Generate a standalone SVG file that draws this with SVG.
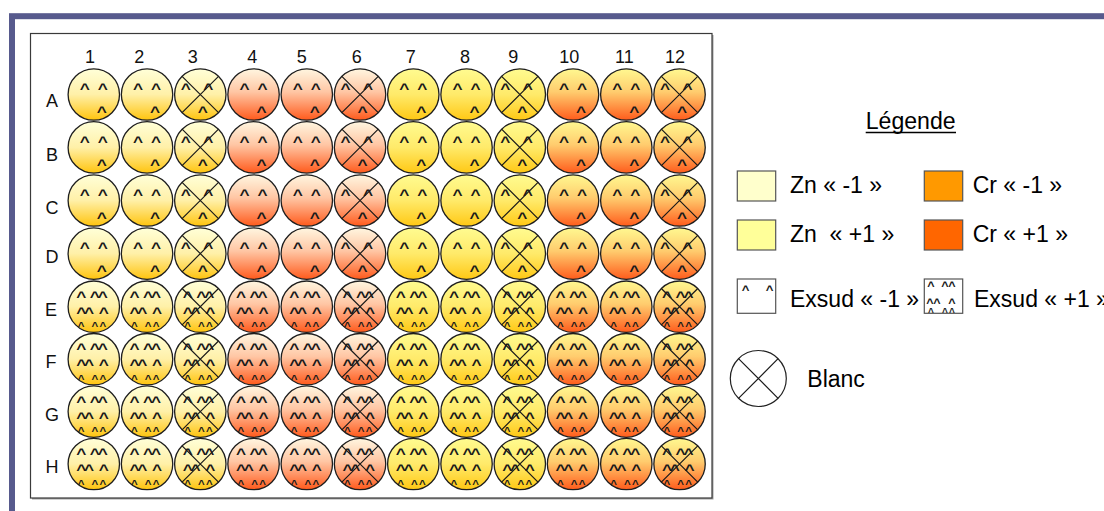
<svg xmlns="http://www.w3.org/2000/svg" xmlns:xlink="http://www.w3.org/1999/xlink" width="1104" height="511" viewBox="0 0 1104 511">
<style>
.frame{fill:none;stroke:#575A8D;stroke-width:6}
.plate{fill:#fff;stroke:#3a3a3a;stroke-width:1.2}
.well{stroke:#1e1e1e;stroke-width:1.3}
.c{font-family:"Liberation Sans",Arial,sans-serif;font-size:15px;font-weight:bold;fill:#1a1a1a;text-anchor:middle}
.cs{font-size:10px}
.cl{font-size:12px}
.x{stroke:#1a1a1a;stroke-width:1.2;fill:none}
.lbl{font-family:"Liberation Sans",Arial,sans-serif;font-size:18px;fill:#111;text-anchor:middle}
.leg{font-family:"Liberation Sans",Arial,sans-serif;font-size:23px;fill:#000}
.sw{stroke:#555;stroke-width:1.2}
</style>
<defs>
<linearGradient id="gA" x1="0" y1="0" x2="0" y2="1"><stop offset="0" stop-color="#FFFFD8"/><stop offset="0.5" stop-color="#FFF0A8"/><stop offset="1" stop-color="#FFC40E"/></linearGradient>
<linearGradient id="gB" x1="0" y1="0" x2="0" y2="1"><stop offset="0" stop-color="#FFF6E0"/><stop offset="0.45" stop-color="#FFC6A4"/><stop offset="1" stop-color="#FF5A1C"/></linearGradient>
<linearGradient id="gC" x1="0" y1="0" x2="0" y2="1"><stop offset="0" stop-color="#FFFB90"/><stop offset="0.5" stop-color="#FFEA6A"/><stop offset="1" stop-color="#FFC814"/></linearGradient>
<linearGradient id="gD" x1="0" y1="0" x2="0" y2="1"><stop offset="0" stop-color="#FFF890"/><stop offset="0.45" stop-color="#FFCC6E"/><stop offset="1" stop-color="#FF5C1C"/></linearGradient>
<g id="ex1">
<text class="c" transform="translate(-9 -8) scale(1.15 1)" y="7.8">^</text>
<text class="c" transform="translate(9 -8) scale(1.15 1)" y="7.8">^</text>
<text class="c" transform="translate(8 14.5) scale(1.15 1)" y="7.8">^</text>
</g>
<g id="ex1b">
<text class="c" transform="translate(-14.5 -8) scale(1.15 1)" y="7.8">^</text>
<text class="c" transform="translate(8 -8) scale(1.15 1)" y="7.8">^</text>
<text class="c" transform="translate(2.5 14.5) scale(1.15 1)" y="7.8">^</text>
</g>
<g id="ex2">
<text class="c" transform="translate(-12.6 -12.7) scale(1.15 1)" y="7.8">^</text>
<text class="c" transform="translate(1 -12.7) scale(1.15 1)" y="7.8">^</text>
<text class="c" transform="translate(9 -12.7) scale(1.15 1)" y="7.8">^</text>
<text class="c" transform="translate(-12.6 3.3) scale(1.15 1)" y="7.8">^</text>
<text class="c" transform="translate(-4.8 3.3) scale(1.15 1)" y="7.8">^</text>
<text class="c" transform="translate(10 3.3) scale(1.15 1)" y="7.8">^</text>
<text class="c cs" transform="translate(-12.6 18.3) scale(1.15 1)" y="5.2">^</text>
<text class="c cs" transform="translate(1 18.3) scale(1.15 1)" y="5.2">^</text>
<text class="c cs" transform="translate(9 18.3) scale(1.15 1)" y="5.2">^</text>
</g>
<g id="xx"><path class="x" d="M-18.2,-18.2L18.2,18.2M18.2,-18.2L-18.2,18.2"/></g>
</defs>

<rect width="1104" height="511" fill="#fff"/>
<rect class="frame" x="12" y="16.2" width="1200" height="600"/>
<rect x="32" y="35" width="681.5" height="464.5" fill="#a0a0a0"/>
<rect class="plate" x="30.5" y="33.5" width="681.5" height="464.5"/>

<g id="col-labels">
<text class="lbl" x="90" y="63.3">1</text>
<text class="lbl" x="139.3" y="63.3">2</text>
<text class="lbl" x="192.7" y="63.3">3</text>
<text class="lbl" x="252.3" y="63.3">4</text>
<text class="lbl" x="301.7" y="63.3">5</text>
<text class="lbl" x="356.7" y="63.3">6</text>
<text class="lbl" x="410.7" y="63.3">7</text>
<text class="lbl" x="465" y="63.3">8</text>
<text class="lbl" x="513.3" y="63.3">9</text>
<text class="lbl" x="569.3" y="63.3">10</text>
<text class="lbl" x="624.3" y="63.3">11</text>
<text class="lbl" x="675" y="63.3">12</text>
</g>
<g id="row-labels">
<text class="lbl" x="52" y="106.8">A</text>
<text class="lbl" x="52" y="161">B</text>
<text class="lbl" x="52" y="214">C</text>
<text class="lbl" x="52" y="263">D</text>
<text class="lbl" x="51" y="315.5">E</text>
<text class="lbl" x="51" y="368.3">F</text>
<text class="lbl" x="52" y="420.8">G</text>
<text class="lbl" x="52" y="473">H</text>
</g>

<g id="wells">
<g id="w-A1" transform="translate(93.8 94.5)"><circle class="well" r="25.7" fill="url(#gA)"/><use href="#ex1"/></g>
<g id="w-A2" transform="translate(147.05 94.5)"><circle class="well" r="25.7" fill="url(#gA)"/><use href="#ex1"/></g>
<g id="w-A3" transform="translate(200.3 94.5)"><circle class="well" r="25.7" fill="url(#gA)"/><use href="#ex1b"/><use href="#xx"/></g>
<g id="w-A4" transform="translate(253.55 94.5)"><circle class="well" r="25.7" fill="url(#gB)"/><use href="#ex1"/></g>
<g id="w-A5" transform="translate(306.8 94.5)"><circle class="well" r="25.7" fill="url(#gB)"/><use href="#ex1"/></g>
<g id="w-A6" transform="translate(360.05 94.5)"><circle class="well" r="25.7" fill="url(#gB)"/><use href="#ex1b"/><use href="#xx"/></g>
<g id="w-A7" transform="translate(413.3 94.5)"><circle class="well" r="25.7" fill="url(#gC)"/><use href="#ex1"/></g>
<g id="w-A8" transform="translate(466.55 94.5)"><circle class="well" r="25.7" fill="url(#gC)"/><use href="#ex1"/></g>
<g id="w-A9" transform="translate(519.8 94.5)"><circle class="well" r="25.7" fill="url(#gC)"/><use href="#ex1b"/><use href="#xx"/></g>
<g id="w-A10" transform="translate(573.05 94.5)"><circle class="well" r="25.7" fill="url(#gD)"/><use href="#ex1"/></g>
<g id="w-A11" transform="translate(626.3 94.5)"><circle class="well" r="25.7" fill="url(#gD)"/><use href="#ex1"/></g>
<g id="w-A12" transform="translate(679.55 94.5)"><circle class="well" r="25.7" fill="url(#gD)"/><use href="#ex1b"/><use href="#xx"/></g>

<g id="w-B1" transform="translate(93.8 147.4)"><circle class="well" r="25.7" fill="url(#gA)"/><use href="#ex1"/></g>
<g id="w-B2" transform="translate(147.05 147.4)"><circle class="well" r="25.7" fill="url(#gA)"/><use href="#ex1"/></g>
<g id="w-B3" transform="translate(200.3 147.4)"><circle class="well" r="25.7" fill="url(#gA)"/><use href="#ex1b"/><use href="#xx"/></g>
<g id="w-B4" transform="translate(253.55 147.4)"><circle class="well" r="25.7" fill="url(#gB)"/><use href="#ex1"/></g>
<g id="w-B5" transform="translate(306.8 147.4)"><circle class="well" r="25.7" fill="url(#gB)"/><use href="#ex1"/></g>
<g id="w-B6" transform="translate(360.05 147.4)"><circle class="well" r="25.7" fill="url(#gB)"/><use href="#ex1b"/><use href="#xx"/></g>
<g id="w-B7" transform="translate(413.3 147.4)"><circle class="well" r="25.7" fill="url(#gC)"/><use href="#ex1"/></g>
<g id="w-B8" transform="translate(466.55 147.4)"><circle class="well" r="25.7" fill="url(#gC)"/><use href="#ex1"/></g>
<g id="w-B9" transform="translate(519.8 147.4)"><circle class="well" r="25.7" fill="url(#gC)"/><use href="#ex1b"/><use href="#xx"/></g>
<g id="w-B10" transform="translate(573.05 147.4)"><circle class="well" r="25.7" fill="url(#gD)"/><use href="#ex1"/></g>
<g id="w-B11" transform="translate(626.3 147.4)"><circle class="well" r="25.7" fill="url(#gD)"/><use href="#ex1"/></g>
<g id="w-B12" transform="translate(679.55 147.4)"><circle class="well" r="25.7" fill="url(#gD)"/><use href="#ex1b"/><use href="#xx"/></g>

<g id="w-C1" transform="translate(93.8 200.5)"><circle class="well" r="25.7" fill="url(#gA)"/><use href="#ex1"/></g>
<g id="w-C2" transform="translate(147.05 200.5)"><circle class="well" r="25.7" fill="url(#gA)"/><use href="#ex1"/></g>
<g id="w-C3" transform="translate(200.3 200.5)"><circle class="well" r="25.7" fill="url(#gA)"/><use href="#ex1b"/><use href="#xx"/></g>
<g id="w-C4" transform="translate(253.55 200.5)"><circle class="well" r="25.7" fill="url(#gB)"/><use href="#ex1"/></g>
<g id="w-C5" transform="translate(306.8 200.5)"><circle class="well" r="25.7" fill="url(#gB)"/><use href="#ex1"/></g>
<g id="w-C6" transform="translate(360.05 200.5)"><circle class="well" r="25.7" fill="url(#gB)"/><use href="#ex1b"/><use href="#xx"/></g>
<g id="w-C7" transform="translate(413.3 200.5)"><circle class="well" r="25.7" fill="url(#gC)"/><use href="#ex1"/></g>
<g id="w-C8" transform="translate(466.55 200.5)"><circle class="well" r="25.7" fill="url(#gC)"/><use href="#ex1"/></g>
<g id="w-C9" transform="translate(519.8 200.5)"><circle class="well" r="25.7" fill="url(#gC)"/><use href="#ex1b"/><use href="#xx"/></g>
<g id="w-C10" transform="translate(573.05 200.5)"><circle class="well" r="25.7" fill="url(#gD)"/><use href="#ex1"/></g>
<g id="w-C11" transform="translate(626.3 200.5)"><circle class="well" r="25.7" fill="url(#gD)"/><use href="#ex1"/></g>
<g id="w-C12" transform="translate(679.55 200.5)"><circle class="well" r="25.7" fill="url(#gD)"/><use href="#ex1b"/><use href="#xx"/></g>

<g id="w-D1" transform="translate(93.8 253.6)"><circle class="well" r="25.7" fill="url(#gA)"/><use href="#ex1"/></g>
<g id="w-D2" transform="translate(147.05 253.6)"><circle class="well" r="25.7" fill="url(#gA)"/><use href="#ex1"/></g>
<g id="w-D3" transform="translate(200.3 253.6)"><circle class="well" r="25.7" fill="url(#gA)"/><use href="#ex1b"/><use href="#xx"/></g>
<g id="w-D4" transform="translate(253.55 253.6)"><circle class="well" r="25.7" fill="url(#gB)"/><use href="#ex1"/></g>
<g id="w-D5" transform="translate(306.8 253.6)"><circle class="well" r="25.7" fill="url(#gB)"/><use href="#ex1"/></g>
<g id="w-D6" transform="translate(360.05 253.6)"><circle class="well" r="25.7" fill="url(#gB)"/><use href="#ex1b"/><use href="#xx"/></g>
<g id="w-D7" transform="translate(413.3 253.6)"><circle class="well" r="25.7" fill="url(#gC)"/><use href="#ex1"/></g>
<g id="w-D8" transform="translate(466.55 253.6)"><circle class="well" r="25.7" fill="url(#gC)"/><use href="#ex1"/></g>
<g id="w-D9" transform="translate(519.8 253.6)"><circle class="well" r="25.7" fill="url(#gC)"/><use href="#ex1b"/><use href="#xx"/></g>
<g id="w-D10" transform="translate(573.05 253.6)"><circle class="well" r="25.7" fill="url(#gD)"/><use href="#ex1"/></g>
<g id="w-D11" transform="translate(626.3 253.6)"><circle class="well" r="25.7" fill="url(#gD)"/><use href="#ex1"/></g>
<g id="w-D12" transform="translate(679.55 253.6)"><circle class="well" r="25.7" fill="url(#gD)"/><use href="#ex1b"/><use href="#xx"/></g>

<g id="w-E1" transform="translate(93.8 306.7)"><circle class="well" r="25.7" fill="url(#gA)"/><use href="#ex2"/></g>
<g id="w-E2" transform="translate(147.05 306.7)"><circle class="well" r="25.7" fill="url(#gA)"/><use href="#ex2"/></g>
<g id="w-E3" transform="translate(200.3 306.7)"><circle class="well" r="25.7" fill="url(#gA)"/><use href="#ex2"/><use href="#xx"/></g>
<g id="w-E4" transform="translate(253.55 306.7)"><circle class="well" r="25.7" fill="url(#gB)"/><use href="#ex2"/></g>
<g id="w-E5" transform="translate(306.8 306.7)"><circle class="well" r="25.7" fill="url(#gB)"/><use href="#ex2"/></g>
<g id="w-E6" transform="translate(360.05 306.7)"><circle class="well" r="25.7" fill="url(#gB)"/><use href="#ex2"/><use href="#xx"/></g>
<g id="w-E7" transform="translate(413.3 306.7)"><circle class="well" r="25.7" fill="url(#gC)"/><use href="#ex2"/></g>
<g id="w-E8" transform="translate(466.55 306.7)"><circle class="well" r="25.7" fill="url(#gC)"/><use href="#ex2"/></g>
<g id="w-E9" transform="translate(519.8 306.7)"><circle class="well" r="25.7" fill="url(#gC)"/><use href="#ex2"/><use href="#xx"/></g>
<g id="w-E10" transform="translate(573.05 306.7)"><circle class="well" r="25.7" fill="url(#gD)"/><use href="#ex2"/></g>
<g id="w-E11" transform="translate(626.3 306.7)"><circle class="well" r="25.7" fill="url(#gD)"/><use href="#ex2"/></g>
<g id="w-E12" transform="translate(679.55 306.7)"><circle class="well" r="25.7" fill="url(#gD)"/><use href="#ex2"/><use href="#xx"/></g>

<g id="w-F1" transform="translate(93.8 359.2)"><circle class="well" r="25.7" fill="url(#gA)"/><use href="#ex2"/></g>
<g id="w-F2" transform="translate(147.05 359.2)"><circle class="well" r="25.7" fill="url(#gA)"/><use href="#ex2"/></g>
<g id="w-F3" transform="translate(200.3 359.2)"><circle class="well" r="25.7" fill="url(#gA)"/><use href="#ex2"/><use href="#xx"/></g>
<g id="w-F4" transform="translate(253.55 359.2)"><circle class="well" r="25.7" fill="url(#gB)"/><use href="#ex2"/></g>
<g id="w-F5" transform="translate(306.8 359.2)"><circle class="well" r="25.7" fill="url(#gB)"/><use href="#ex2"/></g>
<g id="w-F6" transform="translate(360.05 359.2)"><circle class="well" r="25.7" fill="url(#gB)"/><use href="#ex2"/><use href="#xx"/></g>
<g id="w-F7" transform="translate(413.3 359.2)"><circle class="well" r="25.7" fill="url(#gC)"/><use href="#ex2"/></g>
<g id="w-F8" transform="translate(466.55 359.2)"><circle class="well" r="25.7" fill="url(#gC)"/><use href="#ex2"/></g>
<g id="w-F9" transform="translate(519.8 359.2)"><circle class="well" r="25.7" fill="url(#gC)"/><use href="#ex2"/><use href="#xx"/></g>
<g id="w-F10" transform="translate(573.05 359.2)"><circle class="well" r="25.7" fill="url(#gD)"/><use href="#ex2"/></g>
<g id="w-F11" transform="translate(626.3 359.2)"><circle class="well" r="25.7" fill="url(#gD)"/><use href="#ex2"/></g>
<g id="w-F12" transform="translate(679.55 359.2)"><circle class="well" r="25.7" fill="url(#gD)"/><use href="#ex2"/><use href="#xx"/></g>

<g id="w-G1" transform="translate(93.8 411.6)"><circle class="well" r="25.7" fill="url(#gA)"/><use href="#ex2"/></g>
<g id="w-G2" transform="translate(147.05 411.6)"><circle class="well" r="25.7" fill="url(#gA)"/><use href="#ex2"/></g>
<g id="w-G3" transform="translate(200.3 411.6)"><circle class="well" r="25.7" fill="url(#gA)"/><use href="#ex2"/><use href="#xx"/></g>
<g id="w-G4" transform="translate(253.55 411.6)"><circle class="well" r="25.7" fill="url(#gB)"/><use href="#ex2"/></g>
<g id="w-G5" transform="translate(306.8 411.6)"><circle class="well" r="25.7" fill="url(#gB)"/><use href="#ex2"/></g>
<g id="w-G6" transform="translate(360.05 411.6)"><circle class="well" r="25.7" fill="url(#gB)"/><use href="#ex2"/><use href="#xx"/></g>
<g id="w-G7" transform="translate(413.3 411.6)"><circle class="well" r="25.7" fill="url(#gC)"/><use href="#ex2"/></g>
<g id="w-G8" transform="translate(466.55 411.6)"><circle class="well" r="25.7" fill="url(#gC)"/><use href="#ex2"/></g>
<g id="w-G9" transform="translate(519.8 411.6)"><circle class="well" r="25.7" fill="url(#gC)"/><use href="#ex2"/><use href="#xx"/></g>
<g id="w-G10" transform="translate(573.05 411.6)"><circle class="well" r="25.7" fill="url(#gD)"/><use href="#ex2"/></g>
<g id="w-G11" transform="translate(626.3 411.6)"><circle class="well" r="25.7" fill="url(#gD)"/><use href="#ex2"/></g>
<g id="w-G12" transform="translate(679.55 411.6)"><circle class="well" r="25.7" fill="url(#gD)"/><use href="#ex2"/><use href="#xx"/></g>

<g id="w-H1" transform="translate(93.8 464)"><circle class="well" r="25.7" fill="url(#gA)"/><use href="#ex2"/></g>
<g id="w-H2" transform="translate(147.05 464)"><circle class="well" r="25.7" fill="url(#gA)"/><use href="#ex2"/></g>
<g id="w-H3" transform="translate(200.3 464)"><circle class="well" r="25.7" fill="url(#gA)"/><use href="#ex2"/><use href="#xx"/></g>
<g id="w-H4" transform="translate(253.55 464)"><circle class="well" r="25.7" fill="url(#gB)"/><use href="#ex2"/></g>
<g id="w-H5" transform="translate(306.8 464)"><circle class="well" r="25.7" fill="url(#gB)"/><use href="#ex2"/></g>
<g id="w-H6" transform="translate(360.05 464)"><circle class="well" r="25.7" fill="url(#gB)"/><use href="#ex2"/><use href="#xx"/></g>
<g id="w-H7" transform="translate(413.3 464)"><circle class="well" r="25.7" fill="url(#gC)"/><use href="#ex2"/></g>
<g id="w-H8" transform="translate(466.55 464)"><circle class="well" r="25.7" fill="url(#gC)"/><use href="#ex2"/></g>
<g id="w-H9" transform="translate(519.8 464)"><circle class="well" r="25.7" fill="url(#gC)"/><use href="#ex2"/><use href="#xx"/></g>
<g id="w-H10" transform="translate(573.05 464)"><circle class="well" r="25.7" fill="url(#gD)"/><use href="#ex2"/></g>
<g id="w-H11" transform="translate(626.3 464)"><circle class="well" r="25.7" fill="url(#gD)"/><use href="#ex2"/></g>
<g id="w-H12" transform="translate(679.55 464)"><circle class="well" r="25.7" fill="url(#gD)"/><use href="#ex2"/><use href="#xx"/></g>
</g>

<g id="connectors"/>

<g id="legend">
<g id="legend-title">
<text class="leg" x="865.7" y="129.3" textLength="90" lengthAdjust="spacingAndGlyphs">Légende</text>
<line x1="865.7" y1="132.5" x2="956" y2="132.5" stroke="#000" stroke-width="1.5"/>
</g>
<g id="leg-zn-m1"><rect class="sw" x="737.3" y="171" width="38.4" height="30" fill="#FFFFCC"/><text class="leg" x="790" y="193.3">Zn « -1 »</text></g>
<g id="leg-cr-m1"><rect class="sw" x="924.3" y="171" width="38.4" height="30" fill="#FF9900"/><text class="leg" x="972.7" y="193.3">Cr « -1 »</text></g>
<g id="leg-zn-p1"><rect class="sw" x="737.3" y="220" width="38.4" height="30" fill="#FFFF99"/><text class="leg" x="790" y="241.7" xml:space="preserve">Zn  « +1 »</text></g>
<g id="leg-cr-p1"><rect class="sw" x="924.3" y="220" width="38.4" height="30" fill="#FF6600"/><text class="leg" x="972.7" y="241.7">Cr « +1 »</text></g>
<g id="leg-ex-m1">
<rect x="737.3" y="279" width="38.4" height="34.3" fill="#fff" stroke="#555" stroke-width="1.2"/>
<text class="c cl" transform="translate(745.5 287.5) scale(1.1 1)" y="6.2">^</text>
<text class="c cl" transform="translate(769.5 287.5) scale(1.1 1)" y="6.2">^</text>
<text class="leg" x="790" y="306.7">Exsud « -1 »</text>
</g>
<g id="leg-ex-p1">
<rect x="924.3" y="279" width="38.4" height="34.3" fill="#fff" stroke="#555" stroke-width="1.2"/>
<text class="c cl" transform="translate(931 284) scale(1.05 1)" y="6.2">^</text>
<text class="c cl" transform="translate(945 284) scale(1.05 1)" y="6.2">^</text>
<text class="c cl" transform="translate(952 284) scale(1.05 1)" y="6.2">^</text>
<text class="c cl" transform="translate(930 300.5) scale(1.05 1)" y="6.2">^</text>
<text class="c cl" transform="translate(937 300.5) scale(1.05 1)" y="6.2">^</text>
<text class="c cl" transform="translate(952 300.5) scale(1.05 1)" y="6.2">^</text>
<text class="c cs" transform="translate(931 311.5) scale(1 1)" y="4.5">^</text>
<text class="c cs" transform="translate(945 311.5) scale(1 1)" y="4.5">^</text>
<text class="c cs" transform="translate(952 311.5) scale(1 1)" y="4.5">^</text>
<text class="leg" x="974" y="306.7">Exsud « +1 »</text>
</g>
<g id="leg-blanc">
<circle cx="758.3" cy="378.5" r="28" fill="#fff" stroke="#222" stroke-width="1.2"/>
<path class="x" d="M738.5,358.7L778.1,398.3M778.1,358.7L738.5,398.3"/>
<text class="leg" x="807.3" y="387.3">Blanc</text>
</g>
</g>
</svg>
